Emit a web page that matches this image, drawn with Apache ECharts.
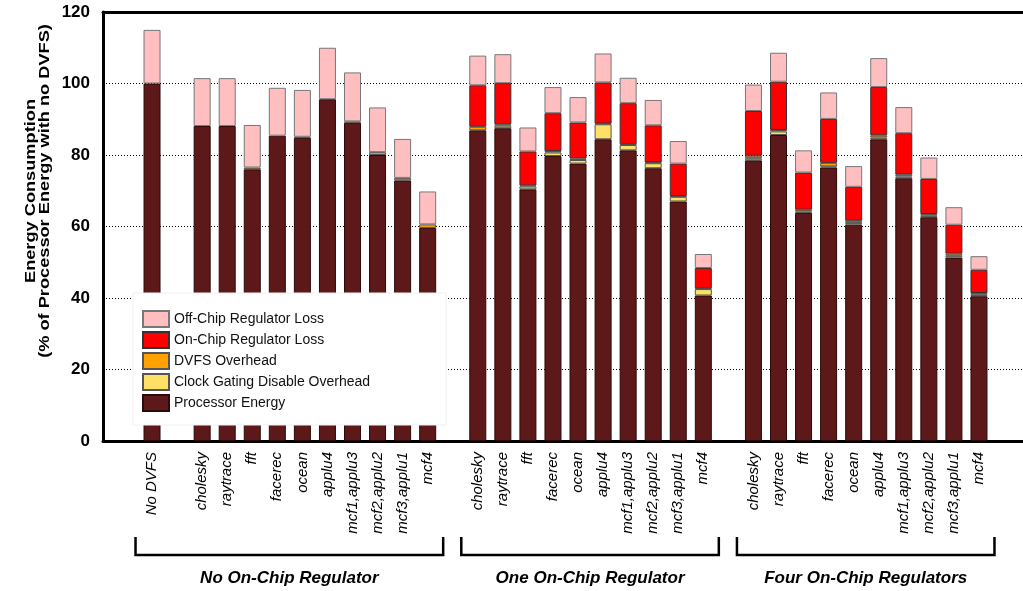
<!DOCTYPE html>
<html>
<head>
<meta charset="utf-8">
<script src="https://cdn.jsdelivr.net/npm/echarts/dist/echarts.min.js"></script>
<style>
  html, body { margin: 0; padding: 0; background: #fff; }
  #chart { width: 1023px; height: 591px; }
</style>
</head>
<body>
<div id="chart"></div>
<script>
// slots along the x axis, '' = gap between groups
var categories = ['No DVFS', '',
    'cholesky', 'raytrace', 'fft', 'facerec', 'ocean', 'applu4', 'mcf1,applu3', 'mcf2,applu2', 'mcf3,applu1', 'mcf4', '',
    'cholesky', 'raytrace', 'fft', 'facerec', 'ocean', 'applu4', 'mcf1,applu3', 'mcf2,applu2', 'mcf3,applu1', 'mcf4', '',
    'cholesky', 'raytrace', 'fft', 'facerec', 'ocean', 'applu4', 'mcf1,applu3', 'mcf2,applu2', 'mcf3,applu1', 'mcf4']

var processorEnergy = [100, '-',
    88.1, 88.1, 76.0, 85.4, 84.8, 95.6, 89.0, 80.0, 72.9, 59.6, '-',
    86.9, 87.5, 70.4, 79.7, 77.6, 84.4, 81.3, 76.3, 67.0, 40.7, '-',
    78.5, 85.6, 63.8, 76.5, 60.5, 84.4, 73.5, 62.6, 51.3, 40.5]
var clockGating = ['-', '-',
    '-', '-', '-', '-', '-', '-', '-', '-', '-', '-', '-',
    '-', 0.7, 0.8, 1.0, 1.0, 4.2, 1.5, 1.4, 1.3, 1.8, '-',
    0.6, 1.0, 0.4, 0.3, 0.5, 0.5, 0.5, 0.4, 0.5, 0.4]
var dvfsOverhead = ['-', '-',
    '-', '-', 0.5, '-', 0.3, '-', 0.4, 0.8, 0.7, 1.0, '-',
    1.0, 0.4, 0.3, 0.4, 0.4, 0.2, 0.2, 0.2, 0.2, 0.2, '-',
    0.7, 0.4, 0.5, 1.0, 0.6, 0.6, 0.5, 0.5, 0.6, 0.5]
var onChipLoss = ['-', '-',
    '-', '-', '-', '-', '-', '-', '-', '-', '-', '-', '-',
    11.6, 11.5, 9.5, 10.6, 10.1, 11.5, 11.5, 10.4, 9.1, 5.7, '-',
    12.5, 13.5, 10.4, 12.3, 9.5, 13.5, 11.6, 9.8, 8.1, 6.5]
var offChipLoss = [15, '-',
    13.4, 13.4, 11.9, 13.4, 13.1, 14.4, 13.7, 12.5, 10.9, 9.2, '-',
    8.3, 8.1, 6.7, 7.3, 7.1, 8.1, 7.1, 7.1, 6.3, 3.9, '-',
    7.4, 8.1, 6.2, 7.4, 5.8, 8.1, 7.3, 6.0, 4.9, 3.8]

// groups: first slot, last slot, name
var groupNames = ['No On-Chip Regulator', 'One On-Chip Regulator', 'Four On-Chip Regulators']
var groupStart = [0, 13, 24]
var groupEnd = [11, 22, 33]

var font = 'Liberation Sans, Arial, Helvetica, sans-serif'

var chart = echarts.init(document.getElementById('chart'))

function barSeries(name, data, color, border) {
    return {
        name: name,
        type: 'bar',
        stack: 'energy',
        xAxisIndex: 2,
        yAxisIndex: 1,
        barWidth: 17,
        data: data,
        itemStyle: {
            color: color,
            borderColor: border,
            borderWidth: 1,
        },
        emphasis: { disabled: true },
    }
}

var option = {
    animation: false,
    textStyle: { fontFamily: font },
    grid: [
        // frame grid (axis lines + y ticks)
        { left: 103, right: 0, top: 12, bottom: 150 },
        // bars grid
        { left: 139.5, right: 31.5, top: 12, bottom: 150 },
    ],
    legend: {
        data: ['Off-Chip Regulator Loss', 'On-Chip Regulator Loss', 'DVFS Overhead', 'Clock Gating Disable Overhead', 'Processor Energy'],
        orient: 'vertical',
        left: 133,
        top: 293,
        icon: 'rect',
        itemWidth: 26,
        itemHeight: 16,
        itemGap: 3,
        padding: [17, 76, 13, 9],
        backgroundColor: '#fff',
        borderColor: '#f0f0f0',
        borderWidth: 1,
        selectedMode: false,
        textStyle: { fontSize: 14, color: '#111', fontFamily: font },
    },
    xAxis: [
        {
            gridIndex: 0, type: 'value', position: 'bottom', min: 0, max: 1,
            axisLine: { show: true, lineStyle: { color: '#000', width: 3 } },
            axisTick: { show: false }, axisLabel: { show: false }, splitLine: { show: false },
        },
        {
            gridIndex: 0, type: 'value', position: 'top', min: 0, max: 1,
            axisLine: { show: true, lineStyle: { color: '#000', width: 3 } },
            axisTick: { show: false }, axisLabel: { show: false }, splitLine: { show: false },
        },
        {
            gridIndex: 1, type: 'category', data: categories,
            axisLine: { show: false }, axisTick: { show: false },
            axisLabel: {
                interval: 0, rotate: 90, margin: 11,
                fontSize: 15, fontStyle: 'italic', color: '#000', fontFamily: font,
            },
        },
    ],
    yAxis: [
        {
            gridIndex: 0, type: 'value', min: 0, max: 120, interval: 20,
            axisLine: { show: true, lineStyle: { color: '#000', width: 3 } },
            axisTick: { show: false },
            axisLabel: { fontSize: 17, fontWeight: 'bold', color: '#000', margin: 13, fontFamily: font },
            splitLine: { show: true, lineStyle: { color: '#000', width: 1, type: [1, 2] } },
        },
        {
            gridIndex: 1, type: 'value', min: 0, max: 120, interval: 20, show: false,
            splitLine: { show: false },
        },
    ],
    series: [
        barSeries('Processor Energy', processorEnergy, '#5d1819', '#2a0a0a'),
        barSeries('Clock Gating Disable Overhead', clockGating, '#ffe066', '#555'),
        barSeries('DVFS Overhead', dvfsOverhead, '#ffa200', '#555'),
        barSeries('On-Chip Regulator Loss', onChipLoss, '#ff0000', '#333'),
        barSeries('Off-Chip Regulator Loss', offChipLoss, '#ffbfc1', '#777'),
    ],
}
chart.setOption(option)

// y axis title (stretched like the original figure), brackets and group names
var graphics = [{
    type: 'text',
    x: 38, y: 191,
    rotation: Math.PI / 2,
    scaleX: 1.3,
    style: {
        text: 'Energy Consumption\n(% of Processor Energy with no DVFS)',
        font: 'bold 14px ' + font,
        fill: '#000',
        align: 'center',
        verticalAlign: 'middle',
        lineHeight: 14,
    },
}]
groupNames.forEach(function (name, i) {
    var x0 = chart.convertToPixel({ xAxisIndex: 2 }, groupStart[i]) - 16.5
    var x1 = chart.convertToPixel({ xAxisIndex: 2 }, groupEnd[i]) + 15.5
    graphics.push({
        type: 'polyline',
        shape: { points: [[x0, 537], [x0, 555], [x1, 555], [x1, 537]] },
        style: { stroke: '#000', lineWidth: 2.5, fill: null },
    })
    graphics.push({
        type: 'text',
        x: (x0 + x1) / 2, y: 578,
        style: {
            text: name,
            font: 'italic bold 17px ' + font,
            fill: '#000',
            align: 'center',
            verticalAlign: 'middle',
        },
    })
})
chart.setOption({ graphic: graphics })
</script>
</body>
</html>
